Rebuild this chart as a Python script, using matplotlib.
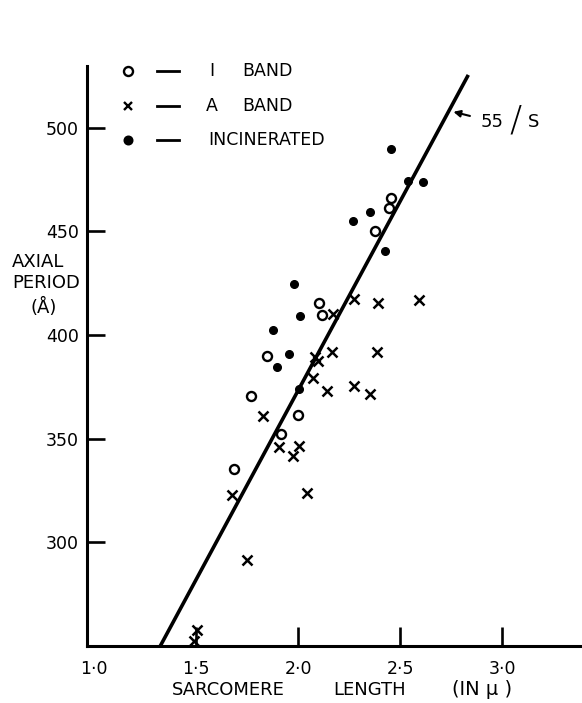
import matplotlib.pyplot as plt

# sarcomere length (micron) vs axial period (angstrom)
i_band_s = [2.456, 2.446, 2.377, 2.103, 2.118, 1.846, 1.770, 2.000, 1.914, 1.684]
i_band_p = [466.3, 461.1, 450.0, 415.4, 409.6, 390.1, 370.7, 361.3, 352.4, 335.6]

a_band_s = [2.170, 2.271, 2.392, 2.590, 2.165, 2.386, 2.080, 2.095, 2.074, 2.141,
            2.271, 2.350, 1.826, 1.907, 2.006, 1.972, 1.676, 2.041, 1.749, 1.505, 1.490]
a_band_p = [410.3, 417.3, 415.6, 417.0, 391.8, 391.6, 389.5, 387.5, 379.1, 373.1,
            375.2, 371.5, 361.1, 346.2, 346.4, 341.6, 322.9, 323.8, 291.5, 257.7, 252.4]

inc_s = [2.456, 2.539, 2.613, 2.353, 2.270, 2.426, 1.980, 2.010, 1.875, 1.957, 1.898, 2.006]
inc_p = [489.9, 474.5, 474.0, 459.6, 454.8, 440.4, 424.5, 409.3, 402.6, 391.0, 384.5, 373.8]

# the 55 periods per sarcomere line
line_s = [1.324, 2.833]
line_p = [250, 525.5]

x_ticks = [1.0, 1.5, 2.0, 2.5, 3.0]
x_tick_labels = ['1·0', '1·5', '2·0', '2·5', '3·0']
y_ticks = [300, 350, 400, 450, 500]

fig = plt.figure(figsize=(5.82, 7.03), dpi=100)
ax = fig.add_axes([0.1495, 0.0811, 0.8505, 0.8256])

ax.plot(line_s, line_p, color='k', lw=2.6, solid_capstyle='butt', zorder=2)
ax.plot(a_band_s, a_band_p, 'x', color='k', ms=7, mew=1.8, clip_on=False, zorder=3)
ax.plot(i_band_s, i_band_p, 'o', mfc='white', mec='k', ms=6.5, mew=1.7, zorder=4)
ax.plot(inc_s, inc_p, 'o', color='k', ms=5.5, zorder=4)

ax.set_xlim(0.965, 3.39)
ax.set_ylim(250, 530)

for side in ['top', 'right']:
    ax.spines[side].set_visible(False)
for side in ['left', 'bottom']:
    ax.spines[side].set_linewidth(2.2)

ax.set_xticks(x_ticks)
ax.set_xticklabels(x_tick_labels)
ax.set_yticks(y_ticks)
ax.xaxis.get_major_ticks()[0].tick1line.set_visible(False)
ax.tick_params(axis='x', direction='in', length=14, width=1.9, pad=10, labelsize=12.5)
ax.tick_params(axis='y', direction='in', length=13, width=1.9, pad=6, labelsize=12.5)

# legend drawn by hand like the original
legend_rows = [
    ('o', 'white', 0.991, 'I', 'BAND'),
    ('x', 'k', 0.931, 'A', 'BAND'),
    ('o', 'k', 0.871, 'INCINERATED', ''),
]
for mk, face, yy, word1, word2 in legend_rows:
    ms = 5.5 if face == 'k' and mk == 'o' else 6.5
    if mk == 'x':
        ms = 6
    ax.plot([0.083], [yy], mk, mfc=face, mec='k', color='k', ms=ms, mew=1.7,
            transform=ax.transAxes, clip_on=False)
    ax.plot([0.142, 0.186], [yy, yy], color='k', lw=2, transform=ax.transAxes, clip_on=False)
    if word2:
        ax.text(0.253, yy, word1, transform=ax.transAxes, ha='center', va='center', fontsize=12.5)
        ax.text(0.313, yy, word2, transform=ax.transAxes, ha='left', va='center', fontsize=12.5)
    else:
        ax.text(0.244, yy, word1, transform=ax.transAxes, ha='left', va='center', fontsize=12.5)

# 55/S label with arrow
tip = (2.76, 507.7)
ax.annotate('55', xy=tip, xytext=(28, -7), textcoords='offset points',
            ha='center', va='center', fontsize=13,
            arrowprops=dict(arrowstyle='-|>', color='k', lw=1.5, shrinkA=6, shrinkB=0,
                            mutation_scale=10))
ax.annotate('/', xy=tip, xytext=(45, -6), textcoords='offset points',
            ha='center', va='center', fontsize=26, fontweight='light')
ax.annotate('S', xy=tip, xytext=(58, -7), textcoords='offset points',
            ha='center', va='center', fontsize=13)

# axis titles
fig.text(172 / 582, 0.0185, 'SARCOMERE', ha='left', va='center', fontsize=13)
fig.text(333 / 582, 0.0185, 'LENGTH', ha='left', va='center', fontsize=13)
fig.text(452 / 582, 0.0185, '(IN μ )', ha='left', va='center', fontsize=14)

fig.text(12 / 582, 1 - 262 / 703, 'AXIAL', ha='left', va='center', fontsize=13)
fig.text(12 / 582, 1 - 283 / 703, 'PERIOD', ha='left', va='center', fontsize=13)
fig.text(44 / 582, 1 - 307 / 703, '(Å)', ha='center', va='center', fontsize=13)

fig.savefig('out.png', dpi=100)
